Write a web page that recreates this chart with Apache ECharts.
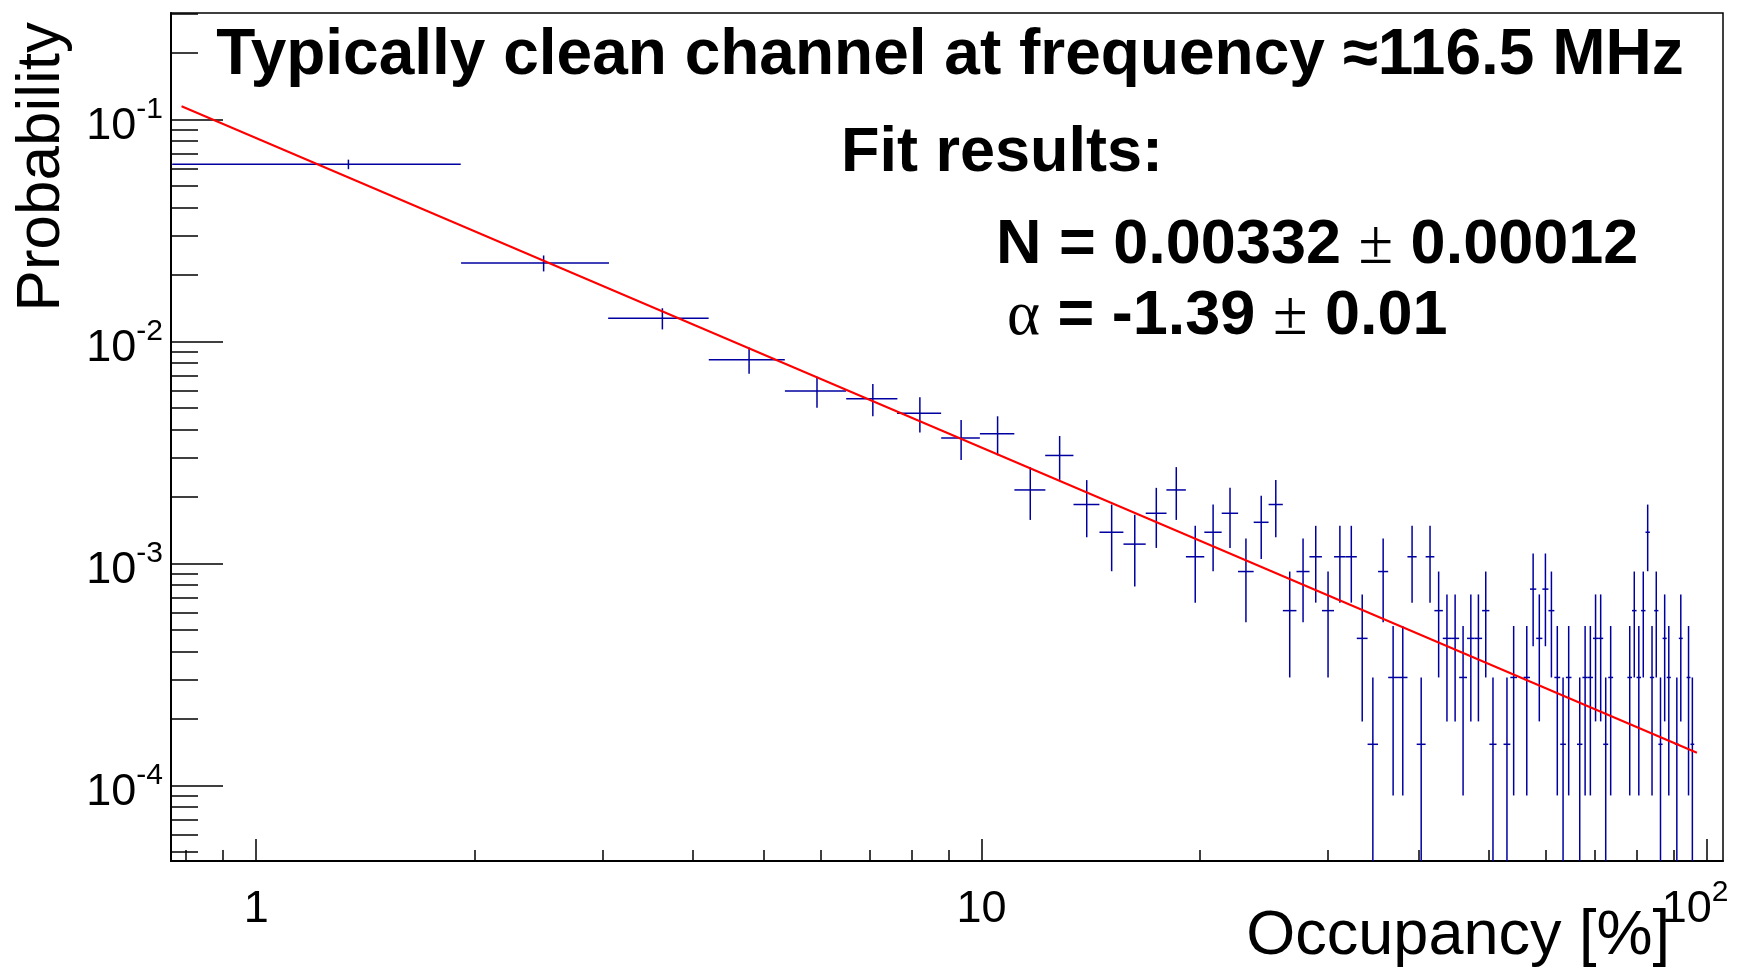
<!DOCTYPE html>
<html>
<head>
<meta charset="utf-8">
<title>Typically clean channel</title>
<script src="https://cdn.jsdelivr.net/npm/echarts@6/dist/echarts.min.js"></script>
<style>
  html, body { margin: 0; padding: 0; background: #fff; }
  #main { width: 1745px; height: 977px; }
</style>
</head>
<body>
<div id="main"></div>
<script>
// histogram bins (occupancy %, bin centres)
var binCenters = [
  1.34, 2.49, 3.63, 4.78, 5.93, 7.08, 8.22, 9.37, 10.52, 11.67,
  12.81, 13.96, 15.11, 16.26, 17.41, 18.55, 19.70, 20.85, 22.00, 23.14,
  24.29, 25.44, 26.59, 27.74, 28.88, 30.03, 31.18, 32.33, 33.47, 34.62,
  35.77, 36.92, 38.07, 39.21, 40.36, 41.51, 42.66, 43.80, 44.95, 46.10,
  47.25, 48.40, 49.54, 50.69, 51.84, 52.99, 54.13, 55.28, 56.43, 57.58,
  58.72, 59.87, 61.02, 62.17, 63.32, 64.46, 65.61, 66.76, 67.91, 69.05,
  70.20, 71.35, 72.50, 73.65, 74.79, 75.94, 77.09, 78.24, 79.38, 80.53,
  81.68, 82.83, 83.98, 85.12, 86.27, 87.42, 88.57, 89.71, 90.86, 92.01,
  93.16, 94.30, 95.45
];
var binHalfWidth = 0.574;

// probability per bin (null = empty bin, not drawn)
var probability = [
  6.27e-2, 2.25e-2, 1.27e-2, 8.26e-3, 5.97e-3, 5.51e-3, 4.74e-3, 3.67e-3, 3.83e-3, 2.14e-3,
  3.06e-3, 1.84e-3, 1.38e-3, 1.22e-3, 1.68e-3, 2.14e-3, 1.07e-3, 1.38e-3, 1.68e-3, 9.18e-4,
  1.53e-3, 1.84e-3, 6.12e-4, 9.18e-4, 1.07e-3, 6.12e-4, 1.07e-3, 1.07e-3, 4.59e-4, 1.53e-4,
  9.18e-4, 3.06e-4, 3.06e-4, 1.07e-3, 1.53e-4, 1.07e-3, 6.12e-4, 4.59e-4, 4.59e-4, 3.06e-4,
  4.59e-4, 4.59e-4, 6.12e-4, 1.53e-4, null, 1.53e-4, 3.06e-4, null, 3.06e-4, 7.65e-4,
  4.59e-4, 7.65e-4, 6.12e-4, 3.06e-4, 1.53e-4, 3.06e-4, null, 1.53e-4, 3.06e-4, 3.06e-4,
  4.59e-4, 4.59e-4, 1.53e-4, 3.06e-4, null, null, null, 3.06e-4, 6.12e-4, 3.06e-4,
  6.12e-4, 1.38e-3, 3.06e-4, 6.12e-4, 1.53e-4, 4.59e-4, 3.06e-4, null, 1.53e-4, 4.59e-4,
  null, 3.06e-4, 1.53e-4
];

var probError = [
  3.10e-3, 1.86e-3, 1.39e-3, 1.12e-3, 9.55e-4, 9.18e-4, 8.52e-4, 7.50e-4, 7.65e-4, 5.72e-4,
  6.84e-4, 5.30e-4, 4.59e-4, 4.33e-4, 5.07e-4, 5.72e-4, 4.05e-4, 4.59e-4, 5.07e-4, 3.75e-4,
  4.84e-4, 5.30e-4, 3.06e-4, 3.75e-4, 4.05e-4, 3.06e-4, 4.05e-4, 4.05e-4, 2.65e-4, 1.53e-4,
  3.75e-4, 2.16e-4, 2.16e-4, 4.05e-4, 1.53e-4, 4.05e-4, 3.06e-4, 2.65e-4, 2.65e-4, 2.16e-4,
  2.65e-4, 2.65e-4, 3.06e-4, 1.53e-4, null, 1.53e-4, 2.16e-4, null, 2.16e-4, 3.42e-4,
  2.65e-4, 3.42e-4, 3.06e-4, 2.16e-4, 1.53e-4, 2.16e-4, null, 1.53e-4, 2.16e-4, 2.16e-4,
  2.65e-4, 2.65e-4, 1.53e-4, 2.16e-4, null, null, null, 2.16e-4, 3.06e-4, 2.16e-4,
  3.06e-4, 4.59e-4, 2.16e-4, 3.06e-4, 1.53e-4, 2.65e-4, 2.16e-4, null, 1.53e-4, 2.65e-4,
  null, 2.16e-4, 1.53e-4
];

// power law fit, end points of the red line
var fitLine = [[0.789, 0.1145], [96.85, 1.402e-4]];

var xMin = 0.763, xMax = 105.2;
var yMin = 4.56e-5, yMax = 0.3012;
var xMajorTicks = [1, 10, 100];
var xMinorTicks = [0.8, 0.9, 2, 3, 4, 5, 6, 7, 8, 9, 20, 30, 40, 50, 60, 70, 80, 90];
var yMajorTicks = [1e-4, 1e-3, 1e-2, 1e-1];
var yMinorTicks = [
  5e-5, 6e-5, 7e-5, 8e-5, 9e-5,
  2e-4, 3e-4, 4e-4, 5e-4, 6e-4, 7e-4, 8e-4, 9e-4,
  2e-3, 3e-3, 4e-3, 5e-3, 6e-3, 7e-3, 8e-3, 9e-3,
  2e-2, 3e-2, 4e-2, 5e-2, 6e-2, 7e-2, 8e-2, 9e-2,
  2e-1, 3e-1
];

var points = [];
for (var i = 0; i < binCenters.length; i++) {
  if (probability[i] == null) continue;
  points.push([binCenters[i], probability[i], probError[i]]);
}

var FONT = '"Liberation Sans", Arial, Helvetica, sans-serif';
var SERIF = '"Liberation Serif", "Times New Roman", serif';

var chartDom = document.getElementById('main');
var myChart = echarts.init(chartDom, null, { renderer: 'canvas' });

function expOf(v) {
  return Math.round(Math.log(v) / Math.LN10);
}

// label pieces: "10" sits low in the line box, the exponent at its top
var labelRich = {
  m: { fontFamily: FONT, fontSize: 45, lineHeight: 59, color: '#000', verticalAlign: 'bottom' },
  n: { fontFamily: FONT, fontSize: 45, lineHeight: 45, color: '#000', verticalAlign: 'bottom' },
  s: { fontFamily: FONT, fontSize: 30, lineHeight: 59, color: '#000', padding: [5, 0, 0, 0], verticalAlign: 'top' },
  pad: { fontSize: 10, width: 24 }
};

var option = {
  animation: false,
  backgroundColor: '#fff',
  grid: {
    left: 171, top: 13, width: 1552, height: 848,
    show: true, borderColor: '#000', borderWidth: 1.5, backgroundColor: 'transparent'
  },
  xAxis: [
    {
      type: 'log', logBase: 10, min: xMin, max: xMax, position: 'bottom',
      axisLine: { show: true, lineStyle: { color: '#000', width: 2 } },
      axisTick: { show: true, inside: true, length: 22, customValues: xMajorTicks, lineStyle: { color: '#000', width: 1.5 } },
      axisLabel: {
        customValues: xMajorTicks,
        margin: 12,
        formatter: function (v) {
          var e = expOf(v);
          if (e === 0) return '{m|1}';
          if (e === 1) return '{m|10}';
          return '{n|10}{s|' + e + '}{pad|\u00a0}';
        },
        rich: labelRich
      },
      splitLine: { show: false }
    },
    {
      type: 'log', logBase: 10, min: xMin, max: xMax, position: 'bottom',
      axisLine: { show: false },
      axisTick: { show: true, inside: true, length: 11, customValues: xMinorTicks, lineStyle: { color: '#000', width: 1.5 } },
      axisLabel: { show: false },
      splitLine: { show: false }
    }
  ],
  yAxis: [
    {
      type: 'log', logBase: 10, min: yMin, max: yMax, position: 'left',
      axisLine: { show: true, lineStyle: { color: '#000', width: 2 } },
      axisTick: { show: true, inside: true, length: 52, customValues: yMajorTicks, lineStyle: { color: '#000', width: 1.5 } },
      axisLabel: {
        customValues: yMajorTicks,
        margin: 8,
        formatter: function (v) {
          return '{n|10}{s|' + expOf(v) + '}';
        },
        rich: labelRich
      },
      splitLine: { show: false }
    },
    {
      type: 'log', logBase: 10, min: yMin, max: yMax, position: 'left',
      axisLine: { show: false },
      axisTick: { show: true, inside: true, length: 27, customValues: yMinorTicks, lineStyle: { color: '#000', width: 1.5 } },
      axisLabel: { show: false },
      splitLine: { show: false }
    }
  ],
  graphic: [
    {
      type: 'text', x: 950, y: 56,
      style: {
        text: 'Typically clean channel at frequency \u2248116.5 MHz',
        font: 'bold 64px ' + FONT, fill: '#000',
        textAlign: 'center', textVerticalAlign: 'middle', align: 'center', verticalAlign: 'middle'
      }
    },
    {
      type: 'text', x: 1002, y: 154,
      style: {
        text: 'Fit results:',
        font: 'bold 63px ' + FONT, fill: '#000',
        textAlign: 'center', textVerticalAlign: 'middle', align: 'center', verticalAlign: 'middle'
      }
    },
    {
      type: 'text', x: 996, y: 246,
      style: {
        text: '{b|N = 0.00332 }{pm|\u00b1}{b| 0.00012}',
        textAlign: 'left', textVerticalAlign: 'middle', align: 'left', verticalAlign: 'middle',
        rich: {
          b: { fontFamily: FONT, fontWeight: 'bold', fontSize: 63, fill: '#000' },
          pm: { fontFamily: SERIF, fontSize: 63, fill: '#000' }
        }
      }
    },
    {
      type: 'text', x: 1007, y: 317,
      style: {
        text: '{a|\u03b1}{b| = -1.39 }{pm|\u00b1}{b| 0.01}',
        textAlign: 'left', textVerticalAlign: 'middle', align: 'left', verticalAlign: 'middle',
        rich: {
          a: { fontFamily: SERIF, fontSize: 63, fill: '#000' },
          b: { fontFamily: FONT, fontWeight: 'bold', fontSize: 63, fill: '#000' },
          pm: { fontFamily: SERIF, fontSize: 63, fill: '#000' }
        }
      }
    },
    {
      type: 'text', x: 42, y: 22, rotation: Math.PI / 2,
      style: {
        text: 'Probability',
        font: '62px ' + FONT, fill: '#000',
        textAlign: 'right', textVerticalAlign: 'middle', align: 'right', verticalAlign: 'middle'
      }
    },
    {
      type: 'text', x: 1670, y: 937,
      style: {
        text: 'Occupancy [%]',
        font: '63px ' + FONT, fill: '#000',
        textAlign: 'right', textVerticalAlign: 'middle', align: 'right', verticalAlign: 'middle'
      }
    }
  ],
  series: [
    {
      name: 'data',
      type: 'custom',
      xAxisIndex: 0, yAxisIndex: 0,
      clip: true,
      z: 2,
      data: points,
      renderItem: function (params, api) {
        var x = api.value(0), y = api.value(1), err = api.value(2);
        var cs = params.coordSys;
        var left = api.coord([Math.max(x - binHalfWidth, xMin), y]);
        var right = api.coord([x + binHalfWidth, y]);
        var top = api.coord([x, y + err]);
        var bottomY = (y - err > 0) ? api.coord([x, y - err])[1] : cs.y + cs.height;
        var style = { stroke: '#0000a0', lineWidth: 1.5 };
        return {
          type: 'group',
          children: [
            { type: 'line', shape: { x1: left[0], y1: left[1], x2: right[0], y2: right[1] }, style: style },
            { type: 'line', shape: { x1: top[0], y1: top[1], x2: top[0], y2: bottomY }, style: style }
          ]
        };
      }
    },
    {
      name: 'fit',
      type: 'line',
      xAxisIndex: 0, yAxisIndex: 0,
      z: 3,
      data: fitLine,
      showSymbol: false,
      symbol: 'none',
      lineStyle: { color: '#ff0000', width: 2 }
    }
  ]
};

option && myChart.setOption(option);
</script>
</body>
</html>
